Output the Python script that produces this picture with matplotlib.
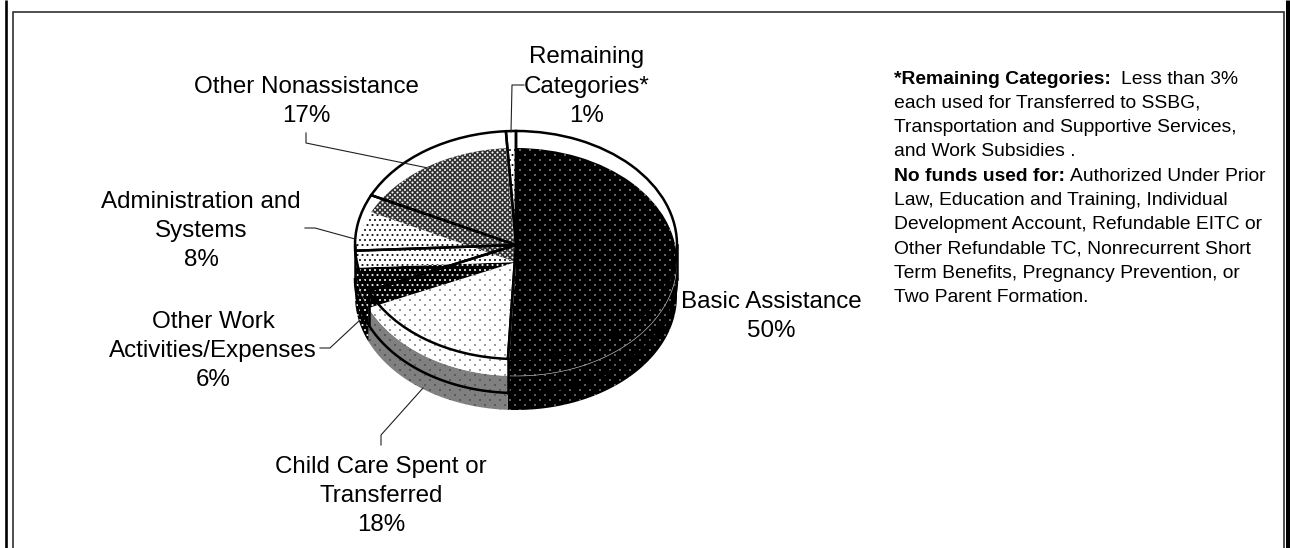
import numpy as np
import matplotlib
matplotlib.use("Agg")
import matplotlib.pyplot as plt
from matplotlib import hatch as mhatch
from matplotlib.path import Path

plt.rcParams['font.family'] = ['Liberation Sans', 'DejaVu Sans']
plt.rcParams['hatch.linewidth'] = 0.1

# ---- data
categories = ["Basic Assistance", "Child Care Spent or\nTransferred", "Other Work\nActivities/Expenses",
              "Administration and\nSystems", "Other Nonassistance", "Remaining\nCategories*"]
shares = [50.8, 17.6, 5.8, 8.0, 16.8, 1.0]
label_percents = [50, 18, 6, 8, 17, 1]

# ---- styling per slice: o = sparse dots, O = dense dots, * = very dense dots
face_colors = ['black', 'white', 'black', 'white', '#303030', 'white']
dot_colors = ['white', 'black', 'white', 'black', 'white', 'black']
dot_hatches = ['o', 'o', 'O', 'O', '*', 'O']
wall_colors = ['black', '#808080', 'black', 'white', 'white', 'white']
wall_dots = ['#e8e8e8', '#202020', 'white', 'black', 'black', 'black']
DOT_SPECS = {'o': (10, 20, 0.0062), 'O': (20, 20, 0.0095), '*': (20, 40, 0.0095)}


class StaggeredDots(mhatch.HatchPatternBase):
    """Staggered dot screens like the ones in the printed chart (tile = 100 px)."""
    circle = Path.unit_circle()

    def __init__(self, hatch, density):
        self.spec = next((DOT_SPECS[c] for c in hatch if c in DOT_SPECS), None)
        self.num_vertices = 0
        if self.spec:
            self.num_vertices = (self.spec[0] + 1) * (self.spec[1] + 1) * len(self.circle.vertices)

    def set_vertices_and_codes(self, vertices, codes):
        cols, rows, radius = self.spec
        n = len(self.circle.vertices)
        pos = 0
        for r in range(rows + 1):
            for c in range(cols + 1):
                offset = 0.5 / cols if r % 2 else 0.0
                vertices[pos:pos + n] = self.circle.vertices * radius + [c / cols + offset, r / rows]
                codes[pos:pos + n] = self.circle.codes
                pos += n


mhatch._hatch_types[:] = [StaggeredDots]

W, H = 1290, 548
cx, rx, ry = 516, 161, 114
fill_cy, outline_cy, fill_depth, outline_depth = 262, 245, 34, 34

fig = plt.figure(figsize=(W / 100, H / 100), dpi=100, facecolor='white')


def pixel_axes(z):
    a = fig.add_axes([0, 0, 1, 1], zorder=z)
    a.set_xlim(0, W)
    a.set_ylim(H, 0)
    a.axis('off')
    return a


def pie_axes(cy, z):
    a = fig.add_axes([(cx - rx) / W, 1 - (cy + ry) / H, 2 * rx / W, 2 * ry / H], zorder=z)
    wedges, _ = a.pie(shares, startangle=90, counterclock=False, radius=1)
    a.set_aspect('auto')
    a.set_xlim(-1, 1)
    a.set_ylim(-1, 1)
    a.axis('off')
    return wedges


# side wall
walls = pixel_axes(0)
edges = np.concatenate([[0], np.cumsum(shares)]) * 3.6
for i, (start, stop) in enumerate(zip(edges[:-1], edges[1:])):
    lo, hi = max(start, 90), min(stop, 270)
    if lo >= hi:
        continue
    t = np.radians(np.linspace(lo, hi, 80))
    x = cx + rx * np.sin(t)
    top = fill_cy - ry * np.cos(t)
    walls.fill_between(x, top, top + fill_depth, facecolor=wall_colors[i], edgecolor=wall_dots[i],
                       hatch=dot_hatches[i], linewidth=0)

# patterned top surface, shifted below the outline
for w, fc, dc, h in zip(pie_axes(fill_cy, 1), face_colors, dot_colors, dot_hatches):
    w.set_facecolor(fc)
    w.set_edgecolor(dc)
    w.set_hatch(h)
    w.set_linewidth(0)

# outline of the pie
for w in pie_axes(outline_cy, 2):
    w.set_facecolor('none')
    w.set_edgecolor('black')
    w.set_linewidth(1.8)

over = pixel_axes(3)

# thin seam on the black slice
t = np.radians(np.linspace(90, edges[1], 80))
over.plot(cx + rx * np.sin(t), fill_cy - ry * np.cos(t), color='#a0a0a0', lw=0.5)

# lower outline and its uprights
t = np.radians(np.linspace(90, 270, 160))
over.plot(cx + rx * np.sin(t), outline_cy + outline_depth - ry * np.cos(t), color='black', lw=1.8)
for ang in [90, edges[1], edges[2], 270]:
    a = np.radians(ang)
    x0 = cx + rx * np.sin(a)
    y0 = outline_cy - ry * np.cos(a)
    over.plot([x0, x0], [y0, y0 + outline_depth], color='black', lw=1.8)

# leader lines
leaders = [
    ([524, 512, 511], [85, 85, 132]),
    ([306, 306, 428], [133, 143, 168]),
    ([305, 315, 355], [228, 228, 239]),
    ([320, 330, 360], [348, 348, 320]),
    ([381, 381, 423], [445, 435, 388]),
]
for xs, ys in leaders:
    over.plot(xs, ys, color='#202020', lw=0.8)

# slice labels
label_pos = [(771, 316.5), (381, 496), (213, 351), (201, 231), (306, 101.5), (587, 86.5)]
for cat, pct, (x, y) in zip(categories, label_percents, label_pos):
    over.text(x, y, f"{cat}\n{pct}%", ha='center', va='center', fontsize=17.4,
              linespacing=1.44, color='black', multialignment='center')

# side note
note_lines = [
    ("*Remaining Categories:", "Less than 3%", 10.5),
    ("", "each used for Transferred to SSBG,", 0),
    ("", "Transportation and Supportive Services,", 0),
    ("", "and Work Subsidies .", 0),
    ("No funds used for:", "Authorized Under Prior", 5),
    ("", "Law, Education and Training, Individual", 0),
    ("", "Development Account, Refundable EITC or", 0),
    ("", "Other Refundable TC, Nonrecurrent Short", 0),
    ("", "Term Benefits, Pregnancy Prevention, or", 0),
    ("", "Two Parent Formation.", 0),
]
renderer = fig.canvas.get_renderer()
for i, (bold, plain, gap) in enumerate(note_lines):
    y = 83.5 + i * 24.33
    x = 893.5
    if bold:
        b = over.text(x, y, bold, fontsize=13.9, fontweight='bold', va='baseline', ha='left', color='black')
        x = b.get_window_extent(renderer).x1 + gap
    over.text(x, y, plain, fontsize=13.9, va='baseline', ha='left', color='black')

# frame
over.plot([6.2, 6.2], [0, H], color='black', lw=1.9, solid_capstyle='butt')
over.plot([1287.5, 1287.5], [0, H], color='black', lw=3.6, solid_capstyle='butt')
over.plot([12.7, 12.7, 1284.3, 1284.3], [H, 11.5, 11.5, H], color='#303030', lw=1.2,
          solid_joinstyle='miter', solid_capstyle='butt')

fig.savefig('out.png', dpi=100)
